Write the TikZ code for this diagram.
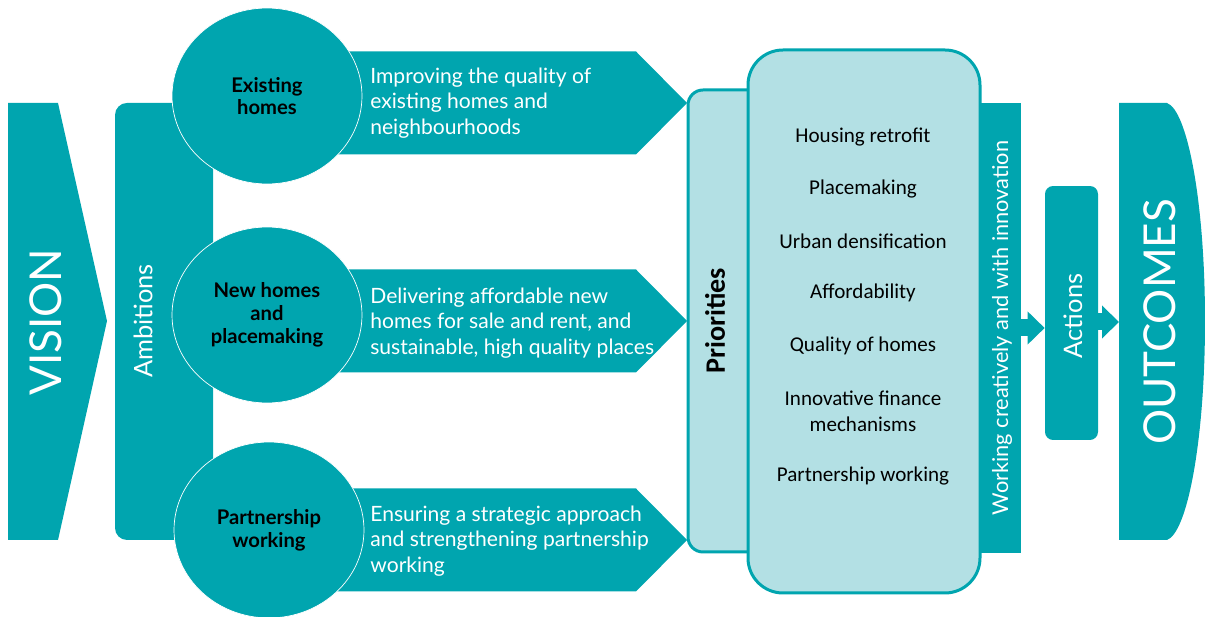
\documentclass[tikz,border=0pt]{standalone}
\usepackage{fontspec}
\setmainfont{Lato}
\newfontfamily\calibri{Carlito}
\usetikzlibrary{arrows.meta,shapes.geometric}
\definecolor{sea}{HTML}{00A5AF}
\definecolor{seapale}{HTML}{B3E0E4}

\begin{document}
\begin{tikzpicture}[x=0.02cm,y=-0.02cm]
	\tikzstyle{bande}=[fill=sea]
	\tikzstyle{boite}=[draw=sea,line width=0.6mm,fill=seapale]
	\tikzstyle{bulle}=[ellipse,fill=sea,draw=white,line width=0.4pt,inner sep=0pt,minimum width=3.8cm,minimum height=3.52cm,align=center,font=\fontsize{11.5}{13}\selectfont\bfseries]
	\tikzstyle{banniere}=[anchor=west,inner sep=0pt,align=left,text=white,font=\fontsize{12}{14.7}\selectfont]
	\tikzstyle{titre}=[rotate=90,inner sep=0pt,text=white,font=\fontsize{25}{30}\selectfont]
	\tikzstyle{soustitre}=[rotate=90,inner sep=0pt,text=white,font=\fontsize{14.5}{17}\selectfont]
	\tikzstyle{priorite}=[align=center,font=\calibri\fontsize{12}{14.7}\selectfont]
	\tikzstyle{fleche}=[draw=sea,line width=3.4mm,-{Triangle[width=6.4mm,length=3.4mm]}]
	\useasboundingbox (0,0) rectangle (1205,617);
	% vision
	\fill[bande] (8,103) -- (58,103) -- (107,321) -- (58,540) -- (8,540) -- cycle;
	\node[titre] (vision) at (46,322) {VISION};
	% ambitions
	\fill[bande,rounded corners=2.4mm] (115,103) rectangle (213,540);
	\node[soustitre] (ambitions) at (143,321) {Ambitions};
	\foreach \y in {103,321,540}
		\fill[bande] (300,\y-51.5) -- (636,\y-51.5) -- (687,\y) -- (636,\y+51.5) -- (300,\y+51.5) -- cycle;
	\node[banniere] (amb1) at (370,103) {Improving the quality of\\existing homes and\\neighbourhoods};
	\node[banniere] (amb2) at (370,323) {Delivering affordable new\\homes for sale and rent, and\\sustainable, high quality places};
	\node[banniere] (amb3) at (370,541) {Ensuring a strategic approach\\and strengthening partnership\\working};
	\node[bulle] (existing) at (267,96) {Existing\\homes};
	\node[bulle] (newhomes) at (267,315) {New homes\\and\\placemaking};
	\node[bulle] (partnership) at (269,530) {Partnership\\working};
	% priorities
	\draw[boite,rounded corners=3mm] (688,90) rectangle (790,552);
	\node[rotate=90,inner sep=0pt,font=\calibri\bfseries\fontsize{16}{19}\selectfont] (priorities) at (715,321) {Priorities};
	\node[bande,inner sep=0pt,minimum width=1.22cm,minimum height=9cm] (working) at (990.5,328) {};
	\node[soustitre,font=\fontsize{12.4}{15}\selectfont] (working label) at (1002,328) {Working creatively and with innovation};
	\draw[boite,rounded corners=7mm] (748,50) rectangle (980,593);
	\foreach \yy/\t [count=\i] in {137/Housing retrofit,189/Placemaking,241/Urban densification,293/Affordability,346/Quality of homes,411/{Innovative finance\\mechanisms},476/Partnership working}
		\node[priorite] (prio\i) at (863,\yy) {\t};
	% actions and outcomes
	\node[bande,rounded corners=1.6mm,inner sep=0pt,minimum width=1.06cm,minimum height=5.08cm] (actions) at (1071.5,313) {};
	\node[soustitre] (actions label) at (1073,316) {Actions};
	\fill[bande] (1119,103) -- (1167,103) .. controls (1187,110) and (1205,200) .. (1205,321) .. controls (1205,442) and (1187,533) .. (1167,540) -- (1119,540) -- cycle;
	\node[titre] (outcomes) at (1160,322) {OUTCOMES};
	\coordinate (outin) at (1119,322);
	\draw[fleche] (working.east) -- (working.east -| actions.west);
	\draw[fleche] (outin -| actions.east) -- (outin);
\end{tikzpicture}
\end{document}
